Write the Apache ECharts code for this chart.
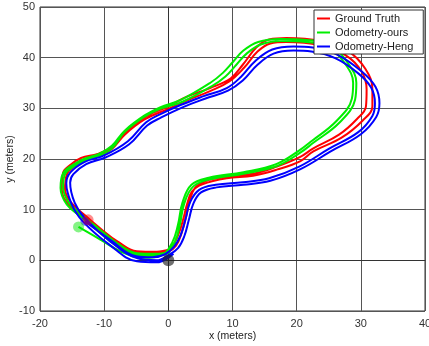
<!DOCTYPE html>
<html>
<head>
<meta charset="utf-8">
<script src="https://cdn.jsdelivr.net/npm/echarts@6/dist/echarts.min.js"></script>
<style>html,body{margin:0;padding:0;background:#fff}#c{width:429px;height:346px}</style>
</head>
<body>
<div id="c"></div>
<script>
var xTicks = [-20, -10, 0, 10, 20, 30, 40];
var yTicks = [-10, 0, 10, 20, 30, 40, 50];
var seriesNames = ['Ground Truth', 'Odometry-ours', 'Odometry-Heng'];

var groundTruth = [
[0.3,2.2],[-1.8,1.7],[-4.9,1.8],[-8.0,3.8],[-10.5,6.2],[-13.0,8.9],[-15.2,11.5],[-16.1,14.0],[-15.8,17.0],[-14.8,18.4],[-13.3,19.6],[-10.8,20.6],[-8.8,22.0],[-6.8,24.8],[-3.7,27.8],[0,29.9],[3.0,31.6],[6.5,33.4],[9.5,35.3],[11.8,38.0],[13.9,41.2],[15.9,42.8],[18.4,43.1],[23.5,42.5],[27.6,40.5],[30.1,37.3],[30.9,33.7],[30.8,30.4],[29.4,27.9],[26.6,24.8],[22.6,22.1],[20.4,20.3],[16.9,18.5],[13.2,17.1],[9.1,16.6],[5.7,15.6],[4.1,14.2],[3.3,11.5],[2.8,8.8],[2.1,5.5],[1.2,2.9],[0.1,1.8],
[-1.8,1.3],[-4.9,1.2],[-8.1,3.3],[-10.6,5.8],[-13.4,8.5],[-15.6,11.1],[-16.6,13.9],[-16.4,17.3],[-15.3,18.8],[-13.6,20.2],[-11.0,21.0],[-8.8,22.4],[-6.6,25.4],[-3.5,28.4],[0,30.4],[2.9,32.3],[6.5,34.0],[9.7,35.9],[11.6,38.6],[13.7,42.0],[15.7,43.6],[18.4,43.9],[23.7,43.3],[28.0,41.3],[30.7,37.8],[31.8,33.7],[31.8,30.4],[30.3,27.6],[27.0,24.2],[22.6,21.5],[20.6,19.6],[16.9,17.9],[13.2,16.7],[9.1,16.2],[5.3,15.0],[3.7,13.6],[2.9,11.0],[2.4,8.5],[1.6,5.2],[0.5,2.6],[-1.0,1.6],[-4.5,1.6],[-8.0,3.6],[-10.5,6.0],[-12.5,7.9]
];

var odomOurs = [
[0.3,1.6],[-1.8,0.9],[-4.9,1.0],[-8.2,3.0],[-10.8,5.6],[-13.6,8.6],[-15.8,11.0],[-16.8,14.3],[-16.4,17.2],[-14.8,18.9],[-13.0,20.1],[-10.8,21.0],[-8.8,22.6],[-6.8,25.6],[-3.7,28.6],[-1.3,30.2],[2.0,31.7],[6.5,35.0],[8.5,37.0],[10.1,39.2],[11.7,41.4],[14.0,43.1],[17.4,43.7],[21.5,43.5],[25.2,42.5],[28.0,38.9],[29.3,35.0],[29.1,31.7],[26.6,27.1],[22.6,23.2],[20.5,21.2],[16.9,18.6],[11.7,17.1],[6.5,16.0],[3.9,14.6],[2.5,11.3],[1.8,7.0],[1.0,3.6],[-0.5,1.5],
[-2.0,1.3],[-4.9,1.4],[-8.0,3.4],[-10.6,6.0],[-13.4,8.9],[-15.5,11.4],[-16.4,14.4],[-16.1,17.0],[-14.6,18.6],[-12.8,19.8],[-10.6,20.7],[-8.7,22.2],[-6.9,25.2],[-3.9,28.2],[-1.3,29.9],[2.2,31.3],[6.8,34.4],[8.9,36.3],[10.6,38.6],[12.2,40.8],[14.4,42.6],[17.6,43.3],[21.5,43.1],[25.0,42.0],[27.6,38.7],[28.8,35.0],[28.6,31.9],[26.2,27.5],[22.4,23.6],[20.3,21.6],[16.8,19.0],[11.7,17.4],[6.3,16.3],[3.6,14.9],[2.2,11.4],[1.5,7.0],[0.6,3.5],[-1.0,1.0],[-3.9,0.5],[-7.0,1.5],[-10.6,4.1],[-14.0,6.6]
];

var odomHeng = [
[0.8,1.3],[-1.8,-0.4],[-4.9,-0.2],[-9.2,3.1],[-13.4,7.8],[-15.1,11.2],[-15.9,15.2],[-15.3,17.3],[-13.1,19.4],[-10.0,20.7],[-6.3,23.5],[-3.5,27.2],[-1.3,28.8],[2.0,30.7],[5.5,32.4],[9.1,34.0],[11.3,36.2],[13.6,39.4],[16.2,41.6],[19.5,42.2],[22.5,42.0],[26.3,40.6],[30.1,37.3],[32.3,34.2],[32.9,31.0],[32.4,28.3],[30.0,24.9],[25.3,21.5],[20.6,18.0],[15.9,15.7],[11.7,14.9],[7.5,14.4],[5.1,13.4],[3.9,11.2],[3.2,8.0],[2.5,4.8],[1.5,2.4],[0,1.0],[-1.8,0.0],
[-4.8,0.4],[-9.0,3.7],[-13.0,8.3],[-14.6,11.4],[-15.3,15.3],[-14.8,17.0],[-12.8,19.0],[-9.8,20.3],[-6.1,22.9],[-3.3,26.6],[-1.1,28.2],[2.2,30.2],[5.7,31.9],[9.3,33.5],[11.6,35.5],[13.9,38.6],[16.4,40.8],[19.5,41.4],[22.3,41.2],[26.0,39.9],[29.6,36.9],[31.6,34.1],[32.2,31.0],[31.8,28.5],[29.6,25.3],[25.0,22.0],[20.4,18.5],[15.7,16.2],[11.6,15.4],[7.4,14.9],[4.8,13.9],[3.4,11.5],[2.7,8.2],[1.9,4.9],[0.9,2.7],[-0.5,1.2],[-2.5,0.6],[-5.0,0.8],[-9.0,4.0],[-13.0,7.7]
];

var startPoint = [[0, 0]];
var endGroundTruth = [[-12.5, 8.0]];
var endOurs = [[-14.0, 6.6]];
var endHeng = [[-13.0, 7.7]];

var FONT = 'Liberation Sans, Arial, Helvetica, sans-serif';
var chart = echarts.init(document.getElementById('c'), null, {renderer: 'canvas'});

function lineSeries(name, data, color) {
  return {
    name: name, type: 'line', data: data, smooth: 0.4,
    showSymbol: false, symbol: 'none',
    lineStyle: {color: color, width: 2}, itemStyle: {color: color},
    animation: false, z: 3
  };
}
function dot(data, color, size, z) {
  return {type: 'scatter', data: data, symbolSize: size,
    itemStyle: {color: color}, animation: false, z: z, silent: true};
}

chart.setOption({
  animation: false,
  backgroundColor: '#fff',
  grid: {left: 40, right: 4, top: 7, bottom: 35, containLabel: false, outerBoundsMode: 'none',
    show: true, borderColor: '#333', borderWidth: 1, backgroundColor: 'transparent'},
  legend: {
    data: seriesNames, orient: 'vertical', left: 314, top: 10,
    padding: [2, 10, 1, 3], itemGap: 1, itemWidth: 13, itemHeight: 2,
    icon: 'rect', backgroundColor: '#fff', borderColor: '#333', borderWidth: 1,
    textStyle: {fontFamily: FONT, fontSize: 11, color: '#222', lineHeight: 13}
  },
  xAxis: {
    type: 'value', min: xTicks[0], max: xTicks[xTicks.length - 1], interval: 10,
    name: 'x (meters)', nameLocation: 'middle', nameGap: 20, nameMoveOverlap: false,
    nameTextStyle: {fontFamily: FONT, fontSize: 10.5, color: '#222'},
    axisLine: {show: true, lineStyle: {color: '#333', width: 1}},
    axisTick: {show: false},
    axisLabel: {fontFamily: FONT, fontSize: 11, color: '#333', margin: 7},
    splitLine: {show: true, lineStyle: {color: '#555', width: 1}}
  },
  yAxis: {
    type: 'value', min: yTicks[0], max: yTicks[yTicks.length - 1], interval: 10,
    name: 'y (meters)', nameLocation: 'middle', nameGap: 24, nameMoveOverlap: false,
    nameTextStyle: {fontFamily: FONT, fontSize: 10.5, color: '#222'},
    axisLine: {show: true, lineStyle: {color: '#333', width: 1}},
    axisTick: {show: false},
    axisLabel: {fontFamily: FONT, fontSize: 11, color: '#333', margin: 5},
    splitLine: {show: true, lineStyle: {color: '#555', width: 1}}
  },
  series: [
    lineSeries(seriesNames[0], groundTruth, '#ff0000'),
    lineSeries(seriesNames[1], odomOurs, '#00ee00'),
    lineSeries(seriesNames[2], odomHeng, '#0000ff'),
    dot(startPoint, 'rgba(30,30,30,0.8)', 12, 5),
    dot(endHeng, 'rgba(0,0,255,0.6)', 9, 5),
    dot(endOurs, 'rgba(0,230,0,0.6)', 11, 5),
    dot(endGroundTruth, 'rgba(255,0,0,0.55)', 11, 6)
  ]
});
</script>
</body>
</html>
